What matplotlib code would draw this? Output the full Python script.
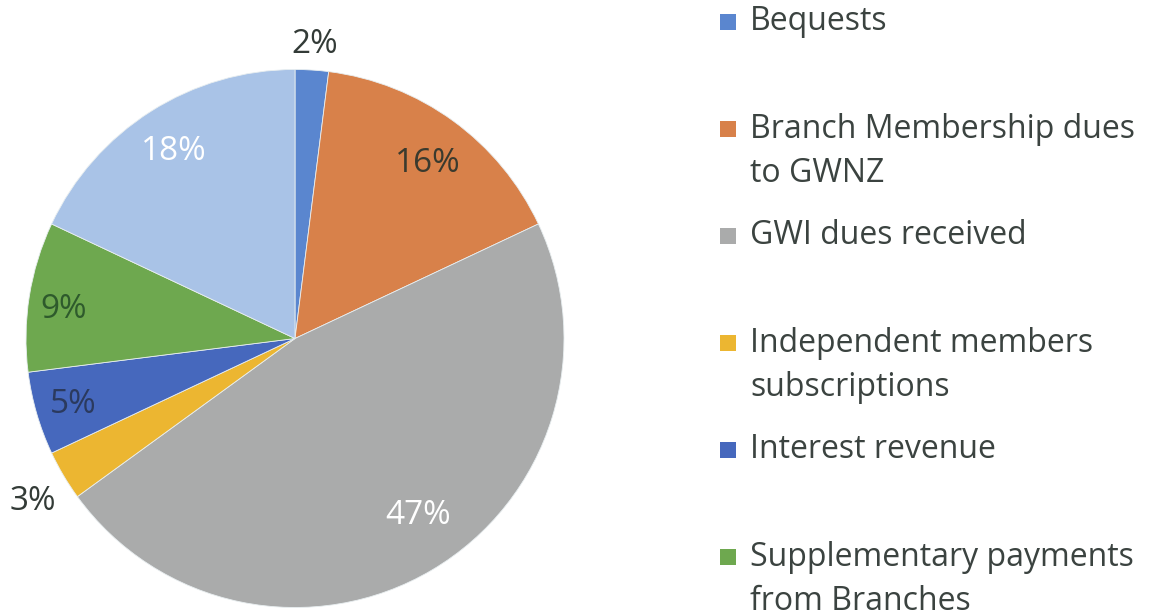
import matplotlib
matplotlib.use("Agg")
import matplotlib.pyplot as plt
import numpy as np
from matplotlib.patches import Rectangle

# ---- data ----
categories = [
    "Bequests",
    "Branch Membership dues\nto GWNZ",
    "GWI dues received",
    "Independent members\nsubscriptions",
    "Interest revenue",
    "Supplementary payments\nfrom Branches",
    "Other",
]
shares = [2, 16, 47, 3, 5, 9, 18]
colors = ["#5A86CF", "#D8814A", "#AAABAB", "#ECB631", "#4668BD", "#6EA84F", "#A9C3E7"]
label_colors = ["#333B37", "#3A3A2E", "#FFFFFF", "#333B37", "#2B3A5E", "#2E5A2C", "#FFFFFF"]

W, H = 1157, 614
fig = plt.figure(figsize=(W / 100, H / 100), dpi=100)
fig.patch.set_facecolor("white")

# pie axes (pixel box of the pie)
cx, cy, rad = 295, 338.5, 269
ax = fig.add_axes([(cx - rad) / W, (H - cy - rad) / H, 2 * rad / W, 2 * rad / H])
wedges, texts, autotexts = ax.pie(
    shares, colors=colors, startangle=90, counterclock=False,
    autopct=lambda p: f"{p:.0f}%", pctdistance=0.82,
    wedgeprops=dict(linewidth=0.6, edgecolor="#E8EEF0"),
    textprops=dict(fontsize=24, family="Open Sans"),
)
ax.set_aspect("auto")
ax.set_xlim(-1, 1)
ax.set_ylim(-1, 1)
ax.axis("off")

# label placement (Excel "best fit" style)
label_radii = [1.095, 0.817, 0.801, 1.146, 0.859, 0.868, 0.828]
label_angle_shift = [-0.3, -1.2, 4.2, 1.3, 0.4, 1.8, 0.5]
for w, t, r, da, c in zip(wedges, autotexts, label_radii, label_angle_shift, label_colors):
    ang = np.deg2rad((w.theta1 + w.theta2) / 2 + da)
    t.set_position((r * np.cos(ang), r * np.sin(ang)))
    t.set_color(c)
    t.set_ha("center")
    t.set_va("center")

# legend (manual, Excel-like; the last entry falls outside the canvas)
first_y, entry_step, line_h = 22, 107, 45
text_x = 750
for k, (cat, col) in enumerate(zip(categories[:6], colors[:6])):
    ytop = first_y + k * entry_step
    fig.patches.append(Rectangle((720 / W, 1 - (ytop + 8) / H), 16 / W, 16 / H,
                                 transform=fig.transFigure, facecolor=col, edgecolor="none"))
    for i, ln in enumerate(cat.split("\n")):
        fig.text(text_x / W, 1 - (ytop + i * line_h) / H, ln, fontsize=23,
                 family="Open Sans", color="#3B4340", ha="left", va="center")

fig.savefig("out.png", dpi=100, facecolor="white")
